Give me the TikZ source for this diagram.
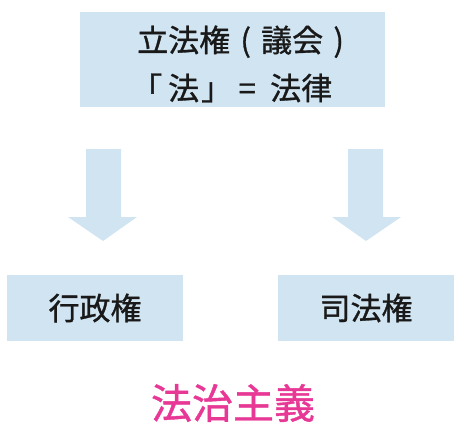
\documentclass[tikz,border=0pt]{standalone}
\usepackage{fontspec}
\newfontfamily\jp[FakeBold=1]{Noto Sans CJK JP}
\definecolor{boxblue}{RGB}{208,228,242}
\definecolor{pinkt}{RGB}{232,56,150}
\definecolor{txt}{RGB}{25,25,25}
\tikzset{
  bluebox/.style={fill=boxblue, draw=none, inner sep=0pt, text=txt, align=center},
  boxtext/.style={inner sep=0pt, text=txt, align=left},
  blockarrow/.style={fill=boxblue, draw=none}
}
\begin{document}
\begin{tikzpicture}[x=1pt,y=-1pt]
\useasboundingbox (0,0) rectangle (463,434);
\node[bluebox, minimum width=305pt, minimum height=95pt] (top) at (232.5,59.5) {};
\node[boxtext, anchor=west, font=\jp\fontsize{31}{48}\selectfont] (toptext) at (137,64) {立法権\makebox[31pt]{(}議会\makebox[31pt]{)}\\\hspace*{-6pt}\makebox[31pt]{「}\hspace{6pt}法\hspace{2pt}\makebox[31pt]{」}\makebox[30pt]{=}\hspace{8pt}法律};
\node[bluebox, minimum width=176pt, minimum height=66pt, font=\jp\fontsize{31}{36}\selectfont] (exec) at (95,308) {行政権};
\node[bluebox, minimum width=176pt, minimum height=66pt, font=\jp\fontsize{31}{36}\selectfont] (jud) at (366,308) {司法権};
\fill[blockarrow] (86,149) -- (121,149) -- (121,217) -- (137,217) -- (103,241) -- (68,217) -- (86,217) -- cycle;
\fill[blockarrow] (348,149) -- (383,149) -- (383,217) -- (401,217) -- (366,241) -- (332,217) -- (348,217) -- cycle;
\node[text=pinkt, font=\jp\fontsize{41}{48}\selectfont, inner sep=0pt] (rule) at (233,403) {法治主義};
\end{tikzpicture}
\end{document}
